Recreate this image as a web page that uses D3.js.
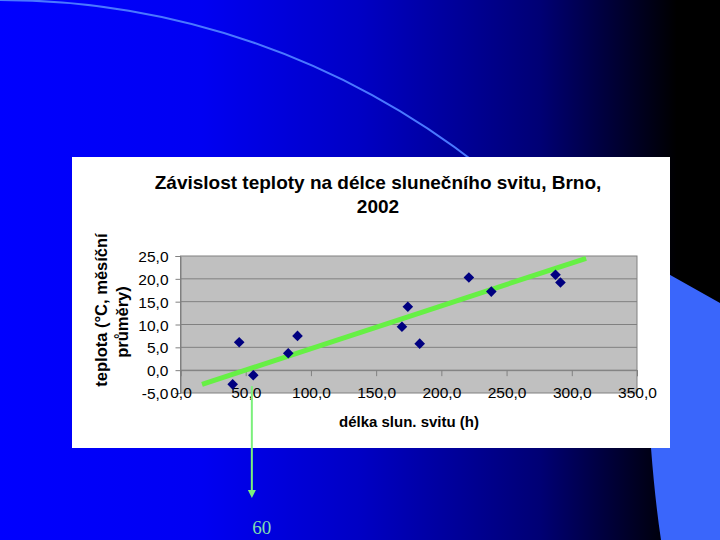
<!DOCTYPE html>
<html>
<head>
<meta charset="utf-8">
<script src="https://cdn.jsdelivr.net/npm/d3@7"></script>
<style>
html,body{margin:0;padding:0;background:#000;}
svg{display:block;}
</style>
</head>
<body>
<script>
// ---- data ----
const sunshine = [40.0, 45.0, 55.8, 82.6, 89.7, 169.8, 174.3, 183.4, 221.1, 238.3, 287.5, 291.3];
const temperature = [-3.1, 6.1, -1.1, 3.7, 7.5, 9.5, 13.9, 5.8, 20.3, 17.2, 20.9, 19.2];
const trendX = [16.5, 311.0];
const trendY = [-3.1, 24.5];
const xTicks = [0, 50, 100, 150, 200, 250, 300, 350];
const yTicks = [-5, 0, 5, 10, 15, 20, 25];
const titleLines = ["Závislost teploty na délce slunečního svitu, Brno,", "2002"];
const yTitleLines = ["teplota (°C, měsíční", "průměry)"];
const xTitle = "délka slun. svitu (h)";
const markerX = [54.7];
const markerLabel = ["60"];

const W = 720, H = 540;
const svg = d3.select("body").append("svg").attr("width", W).attr("height", H);
const defs = svg.append("defs");
const grad = defs.append("linearGradient").attr("id", "bg").attr("x1", 0).attr("x2", 1).attr("y1", 0).attr("y2", 0);
[[0, "#0000ff"], [0.28, "#0000f2"], [0.5, "#0000c4"], [0.75, "#000074"], [0.94, "#000000"], [1, "#000000"]]
  .forEach(([o, c]) => grad.append("stop").attr("offset", o).attr("stop-color", c));
svg.append("rect").attr("width", W).attr("height", H).attr("fill", "url(#bg)");

// decorative arc
svg.append("path")
  .attr("d", d3.arc()({innerRadius: 775, outerRadius: 777, startAngle: 0, endAngle: Math.asin(480 / 776)}))
  .attr("transform", "translate(0,776)")
  .attr("fill", "#4a78ff");
// light blue shape on the right
svg.append("path")
  .attr("d", "M640,258 L720,303 L720,540 L661,540 Q655,500 651,448 L640,448 Z")
  .attr("fill", "#3a66fb");

// chart card
svg.append("rect").attr("x", 72).attr("y", 157).attr("width", 598).attr("height", 291).attr("fill", "#ffffff");

const font = "'Liberation Sans', Arial, sans-serif";
const x = d3.scaleLinear().domain([0, 350]).range([180.5, 637]);
const y = d3.scaleLinear().domain([-5, 25]).range([393, 256]);
const fmt = d => d3.format(".1f")(d).replace(".", ",").replace("−", "-");

// plot area
svg.append("rect").attr("x", x(0)).attr("y", y(25)).attr("width", x(350) - x(0)).attr("height", y(-5) - y(25))
  .attr("fill", "#c0c0c0").attr("stroke", "#808080").attr("stroke-width", 1);

// gridlines
svg.append("g").selectAll("line").data(yTicks.filter(d => d > -5 && d < 25)).join("line")
  .attr("x1", x(0)).attr("x2", x(350)).attr("y1", d => y(d)).attr("y2", d => y(d))
  .attr("stroke", "#808080").attr("stroke-width", 1);

// y axis
const yAxis = svg.append("g").attr("transform", `translate(${x(0)},0)`)
  .call(d3.axisLeft(y).tickValues(yTicks).tickSize(5).tickPadding(7).tickFormat(fmt));
yAxis.select(".domain").attr("stroke", "#808080");
yAxis.selectAll(".tick line").attr("stroke", "#808080");
yAxis.selectAll("text").attr("font-family", font).attr("font-size", 15.5).attr("fill", "#000").attr("dy", "0.36em");

// x axis (crosses at y = 0), labels at bottom
const xAxis = svg.append("g").attr("transform", `translate(0,${y(0)})`)
  .call(d3.axisBottom(x).tickValues(xTicks).tickSize(6).tickFormat(fmt));
xAxis.select(".domain").attr("stroke", "#808080");
xAxis.selectAll(".tick line").attr("stroke", "#808080");
xAxis.selectAll("text").attr("font-family", font).attr("font-size", 15.5).attr("fill", "#000")
  .attr("y", y(-5) - y(0) + 5).attr("dy", 0);

// trendline
svg.append("line")
  .attr("x1", x(trendX[0])).attr("y1", y(trendY[0]))
  .attr("x2", x(trendX[1])).attr("y2", y(trendY[1]))
  .attr("stroke", "#66f044").attr("stroke-width", 5);

// points
const pts = sunshine.map((s, i) => ({s, t: temperature[i]}));
svg.append("g").selectAll("path").data(pts).join("path")
  .attr("transform", d => `translate(${x(d.s)},${y(d.t)})`)
  .attr("d", d3.symbol().type(d3.symbolDiamond2).size(72))
  .attr("fill", "#000080");

// title
svg.append("g").selectAll("text").data(titleLines).join("text")
  .attr("x", 378).attr("y", (d, i) => 189 + i * 24)
  .attr("text-anchor", "middle").attr("font-family", font).attr("font-weight", "bold")
  .attr("font-size", 19).attr("fill", "#000").text(d => d);

// y title
const yCenters = [310, 322];
svg.append("g").selectAll("text").data(yTitleLines).join("text")
  .attr("transform", (d, i) => `translate(${107 + i * 21},${yCenters[i]}) rotate(-90)`)
  .attr("text-anchor", "middle").attr("font-family", font).attr("font-weight", "bold")
  .attr("font-size", 16.5).attr("fill", "#000").text(d => d);

// x title
svg.append("text").attr("x", 409).attr("y", 427).attr("text-anchor", "middle")
  .attr("font-family", font).attr("font-weight", "bold").attr("font-size", 15).attr("fill", "#000").text(xTitle);

// annotation arrow
const mx = x(markerX[0]);
svg.append("line").attr("x1", mx).attr("x2", mx).attr("y1", 386).attr("y2", 492)
  .attr("stroke", "#7cf07c").attr("stroke-width", 2);
svg.append("path").attr("d", `M${mx - 4},490 L${mx + 4},490 L${mx},498 Z`).attr("fill", "#7cf07c");
svg.append("text").attr("x", mx + 10).attr("y", 534).attr("text-anchor", "middle")
  .attr("font-family", "'Liberation Serif', 'Times New Roman', serif").attr("font-size", 19)
  .attr("fill", "#80dcb0").text(markerLabel[0]);
</script>
</body>
</html>
